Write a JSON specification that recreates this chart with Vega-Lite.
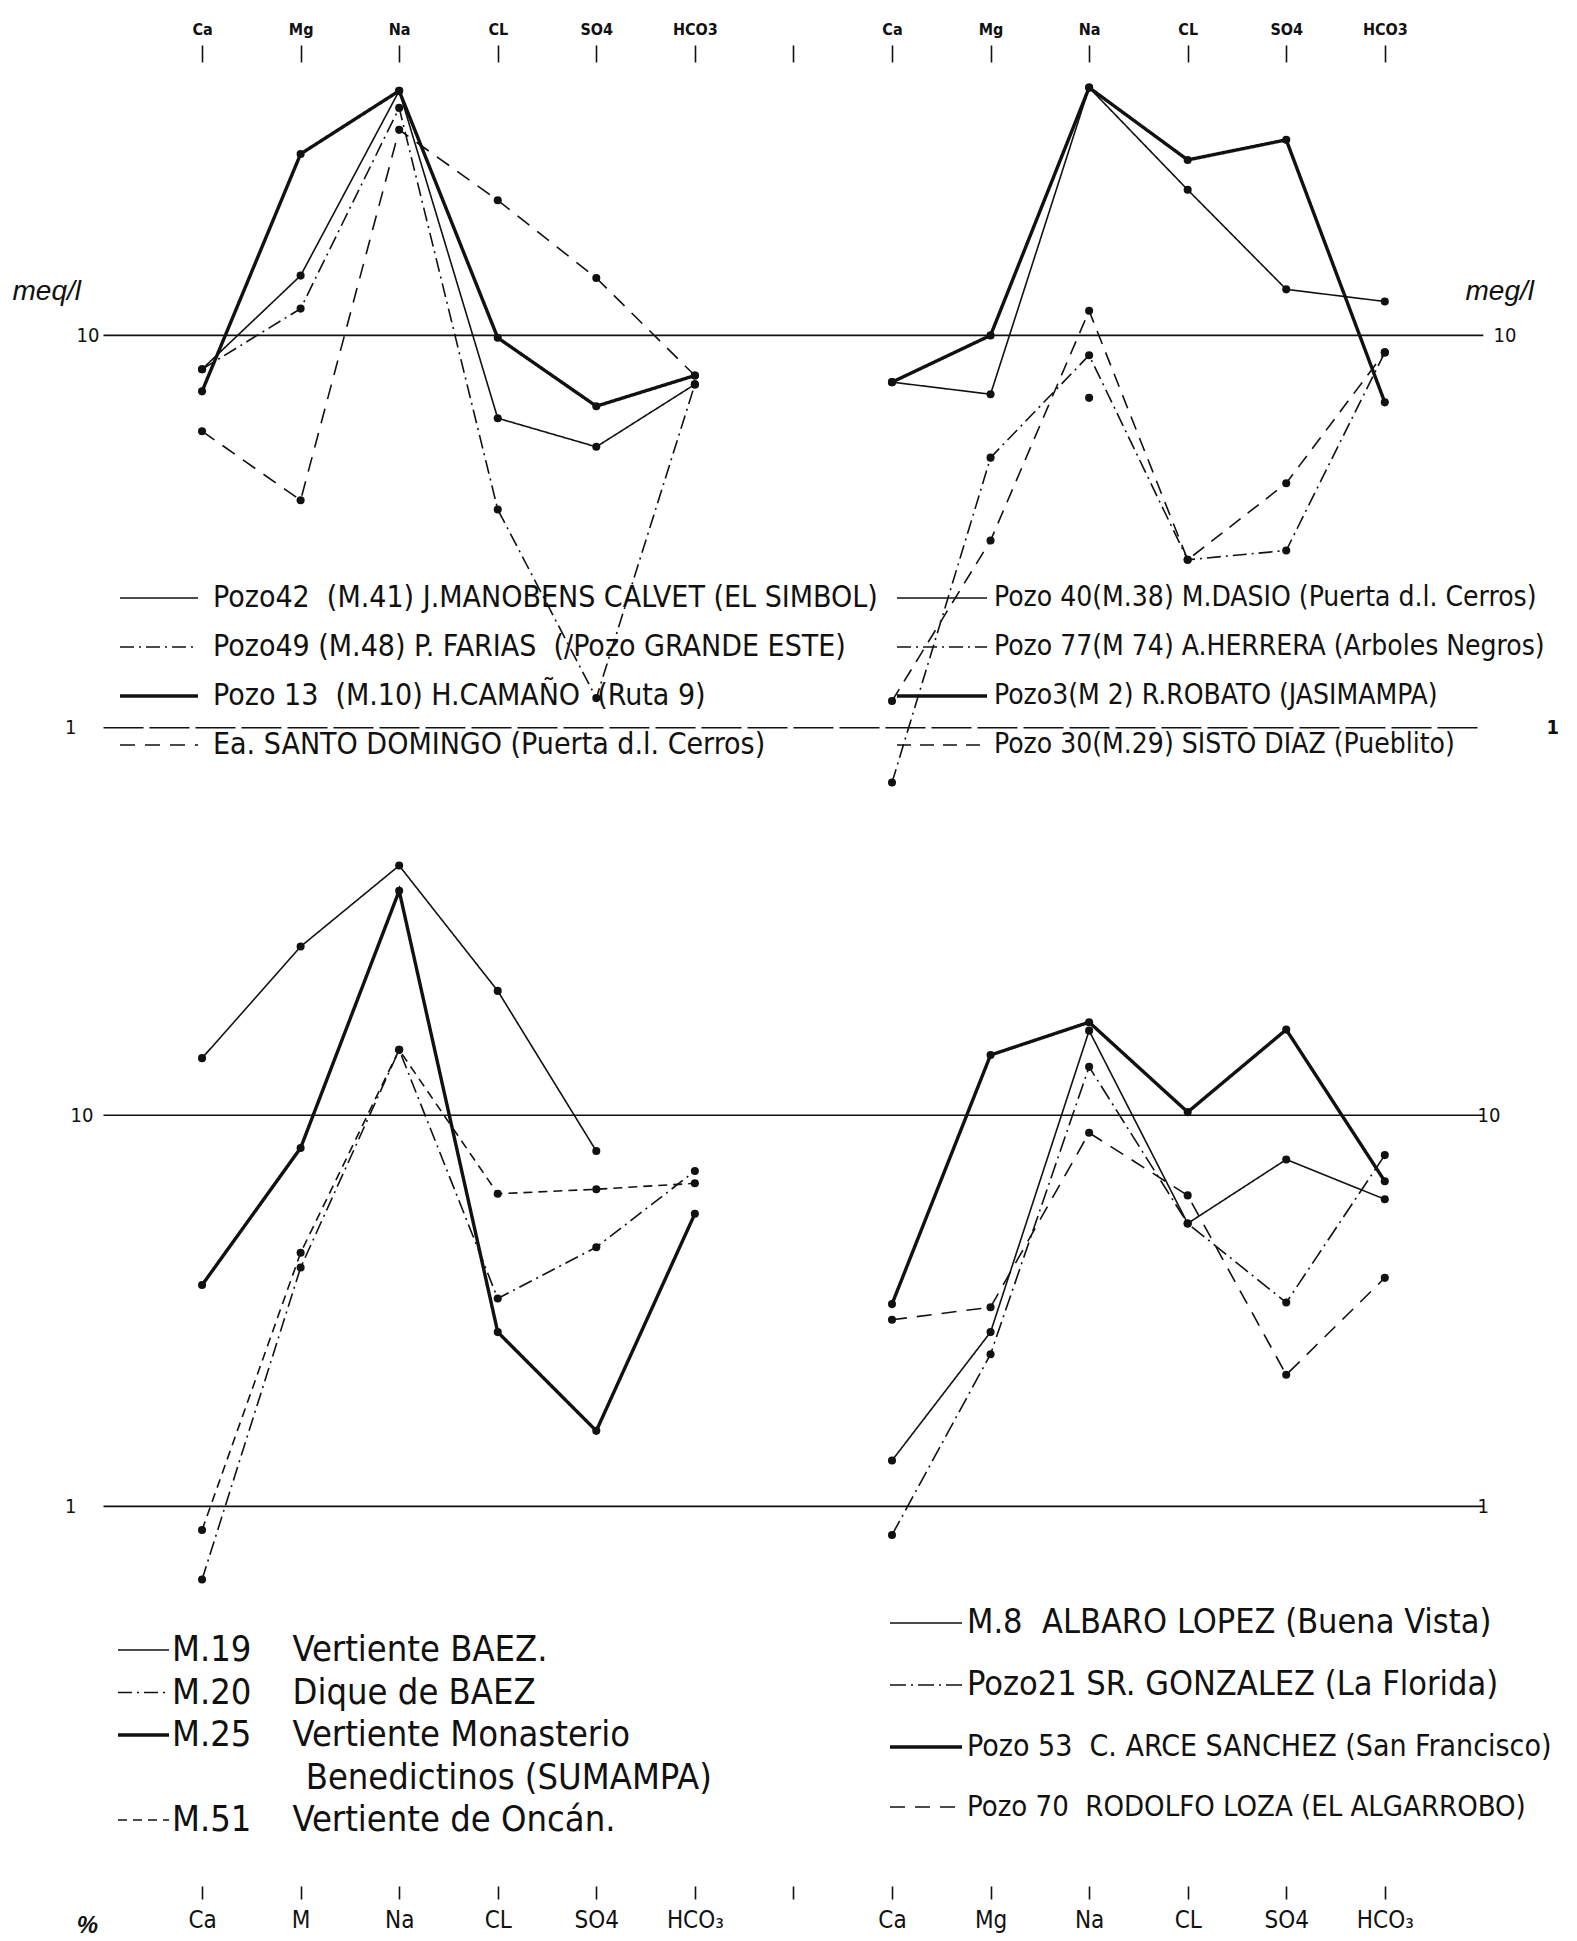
{
  "$schema": "https://vega.github.io/schema/vega-lite/v6.json",
  "background": "white",
  "padding": {"left": 0, "top": 21, "right": 0, "bottom": 0},
  "spacing": 30,
  "config": {
    "view": {"stroke": null},
    "font": "Liberation Sans Narrow, DejaVu Sans Condensed, Liberation Sans, sans-serif",
    "axis": {"grid": false, "domain": false, "labelColor": "#111", "tickColor": "#111", "titleColor": "#111", "labelFont": "Liberation Sans Narrow, DejaVu Sans Condensed, Liberation Sans, sans-serif", "titleFont": "Liberation Sans, DejaVu Sans, sans-serif"},
    "legend": {"labelColor": "#111", "labelFont": "Liberation Sans Narrow, DejaVu Sans Condensed, Liberation Sans, sans-serif"}
  },
  "resolve": {"scale": {"strokeDash": "independent", "x": "independent", "y": "independent"}, "legend": {"strokeDash": "independent"}},
  "datasets": {
    "arriba": [
      {"lado": "izq", "serie": "Pozo42\u00a0 (M.41) J.MANOBENS CALVET (EL SIMBOL)", "col": "Ca-I", "meq": 8.2},
      {"lado": "izq", "serie": "Pozo42\u00a0 (M.41) J.MANOBENS CALVET (EL SIMBOL)", "col": "Mg-I", "meq": 14.2},
      {"lado": "izq", "serie": "Pozo42\u00a0 (M.41) J.MANOBENS CALVET (EL SIMBOL)", "col": "Na-I", "meq": 42},
      {"lado": "izq", "serie": "Pozo42\u00a0 (M.41) J.MANOBENS CALVET (EL SIMBOL)", "col": "CL-I", "meq": 6.15},
      {"lado": "izq", "serie": "Pozo42\u00a0 (M.41) J.MANOBENS CALVET (EL SIMBOL)", "col": "SO4-I", "meq": 5.2},
      {"lado": "izq", "serie": "Pozo42\u00a0 (M.41) J.MANOBENS CALVET (EL SIMBOL)", "col": "HCO3-I", "meq": 7.5},
      {"lado": "izq", "serie": "Pozo49 (M.48) P. FARIAS\u00a0 (/Pozo GRANDE ESTE)", "col": "Ca-I", "meq": 8.2},
      {"lado": "izq", "serie": "Pozo49 (M.48) P. FARIAS\u00a0 (/Pozo GRANDE ESTE)", "col": "Mg-I", "meq": 11.7},
      {"lado": "izq", "serie": "Pozo49 (M.48) P. FARIAS\u00a0 (/Pozo GRANDE ESTE)", "col": "Na-I", "meq": 38},
      {"lado": "izq", "serie": "Pozo49 (M.48) P. FARIAS\u00a0 (/Pozo GRANDE ESTE)", "col": "CL-I", "meq": 3.6},
      {"lado": "izq", "serie": "Pozo49 (M.48) P. FARIAS\u00a0 (/Pozo GRANDE ESTE)", "col": "SO4-I", "meq": 1.19},
      {"lado": "izq", "serie": "Pozo49 (M.48) P. FARIAS\u00a0 (/Pozo GRANDE ESTE)", "col": "HCO3-I", "meq": 7.5},
      {"lado": "izq", "serie": "Pozo 13\u00a0 (M.10) H.CAMAÑO\u00a0 (Ruta 9)", "col": "Ca-I", "meq": 7.2},
      {"lado": "izq", "serie": "Pozo 13\u00a0 (M.10) H.CAMAÑO\u00a0 (Ruta 9)", "col": "Mg-I", "meq": 29},
      {"lado": "izq", "serie": "Pozo 13\u00a0 (M.10) H.CAMAÑO\u00a0 (Ruta 9)", "col": "Na-I", "meq": 42},
      {"lado": "izq", "serie": "Pozo 13\u00a0 (M.10) H.CAMAÑO\u00a0 (Ruta 9)", "col": "CL-I", "meq": 9.86},
      {"lado": "izq", "serie": "Pozo 13\u00a0 (M.10) H.CAMAÑO\u00a0 (Ruta 9)", "col": "SO4-I", "meq": 6.6},
      {"lado": "izq", "serie": "Pozo 13\u00a0 (M.10) H.CAMAÑO\u00a0 (Ruta 9)", "col": "HCO3-I", "meq": 7.9},
      {"lado": "izq", "serie": "Ea. SANTO DOMINGO (Puerta d.l. Cerros)", "col": "Ca-I", "meq": 5.7},
      {"lado": "izq", "serie": "Ea. SANTO DOMINGO (Puerta d.l. Cerros)", "col": "Mg-I", "meq": 3.8},
      {"lado": "izq", "serie": "Ea. SANTO DOMINGO (Puerta d.l. Cerros)", "col": "Na-I", "meq": 33.4},
      {"lado": "izq", "serie": "Ea. SANTO DOMINGO (Puerta d.l. Cerros)", "col": "CL-I", "meq": 22.1},
      {"lado": "izq", "serie": "Ea. SANTO DOMINGO (Puerta d.l. Cerros)", "col": "SO4-I", "meq": 14},
      {"lado": "izq", "serie": "Ea. SANTO DOMINGO (Puerta d.l. Cerros)", "col": "HCO3-I", "meq": 7.9},
      {"lado": "der", "serie": "Pozo 40(M.38) M.DASIO (Puerta d.l. Cerros)", "col": "Ca-D", "meq": 7.6},
      {"lado": "der", "serie": "Pozo 40(M.38) M.DASIO (Puerta d.l. Cerros)", "col": "Mg-D", "meq": 7.08},
      {"lado": "der", "serie": "Pozo 40(M.38) M.DASIO (Puerta d.l. Cerros)", "col": "Na-D", "meq": 42.8},
      {"lado": "der", "serie": "Pozo 40(M.38) M.DASIO (Puerta d.l. Cerros)", "col": "CL-D", "meq": 23.5},
      {"lado": "der", "serie": "Pozo 40(M.38) M.DASIO (Puerta d.l. Cerros)", "col": "SO4-D", "meq": 13.1},
      {"lado": "der", "serie": "Pozo 40(M.38) M.DASIO (Puerta d.l. Cerros)", "col": "HCO3-D", "meq": 12.2},
      {"lado": "der", "serie": "Pozo 77(M 74) A.HERRERA (Arboles Negros)", "col": "Ca-D", "meq": 0.725},
      {"lado": "der", "serie": "Pozo 77(M 74) A.HERRERA (Arboles Negros)", "col": "Mg-D", "meq": 4.88},
      {"lado": "der", "serie": "Pozo 77(M 74) A.HERRERA (Arboles Negros)", "col": "Na-D", "meq": 8.9},
      {"lado": "der", "serie": "Pozo 77(M 74) A.HERRERA (Arboles Negros)", "col": "CL-D", "meq": 2.68},
      {"lado": "der", "serie": "Pozo 77(M 74) A.HERRERA (Arboles Negros)", "col": "SO4-D", "meq": 2.83},
      {"lado": "der", "serie": "Pozo 77(M 74) A.HERRERA (Arboles Negros)", "col": "HCO3-D", "meq": 9.05},
      {"lado": "der", "serie": "Pozo3(M 2) R.ROBATO (JASIMAMPA)", "col": "Ca-D", "meq": 7.6},
      {"lado": "der", "serie": "Pozo3(M 2) R.ROBATO (JASIMAMPA)", "col": "Mg-D", "meq": 10.0},
      {"lado": "der", "serie": "Pozo3(M 2) R.ROBATO (JASIMAMPA)", "col": "Na-D", "meq": 42.8},
      {"lado": "der", "serie": "Pozo3(M 2) R.ROBATO (JASIMAMPA)", "col": "CL-D", "meq": 28.0},
      {"lado": "der", "serie": "Pozo3(M 2) R.ROBATO (JASIMAMPA)", "col": "SO4-D", "meq": 31.5},
      {"lado": "der", "serie": "Pozo3(M 2) R.ROBATO (JASIMAMPA)", "col": "HCO3-D", "meq": 6.75},
      {"lado": "der", "serie": "Pozo 30(M.29) SISTO DIAZ (Pueblito)", "col": "Ca-D", "meq": 1.17},
      {"lado": "der", "serie": "Pozo 30(M.29) SISTO DIAZ (Pueblito)", "col": "Mg-D", "meq": 3.0},
      {"lado": "der", "serie": "Pozo 30(M.29) SISTO DIAZ (Pueblito)", "col": "Na-D", "meq": 11.55},
      {"lado": "der", "serie": "Pozo 30(M.29) SISTO DIAZ (Pueblito)", "col": "CL-D", "meq": 2.68},
      {"lado": "der", "serie": "Pozo 30(M.29) SISTO DIAZ (Pueblito)", "col": "SO4-D", "meq": 4.2},
      {"lado": "der", "serie": "Pozo 30(M.29) SISTO DIAZ (Pueblito)", "col": "HCO3-D", "meq": 9.05},
      {"lado": "suelto", "serie": "punto aislado", "col": "Na-D", "meq": 6.93}
    ],
    "abajo": [
      {"lado": "izq", "serie": "M.19\u00a0\u00a0\u00a0 Vertiente BAEZ.", "col": "Ca-I", "meq": 14.0},
      {"lado": "izq", "serie": "M.19\u00a0\u00a0\u00a0 Vertiente BAEZ.", "col": "Mg-I", "meq": 27.0},
      {"lado": "izq", "serie": "M.19\u00a0\u00a0\u00a0 Vertiente BAEZ.", "col": "Na-I", "meq": 43.5},
      {"lado": "izq", "serie": "M.19\u00a0\u00a0\u00a0 Vertiente BAEZ.", "col": "CL-I", "meq": 20.8},
      {"lado": "izq", "serie": "M.19\u00a0\u00a0\u00a0 Vertiente BAEZ.", "col": "SO4-I", "meq": 8.1},
      {"lado": "izq", "serie": "M.20\u00a0\u00a0\u00a0 Dique de BAEZ", "col": "Ca-I", "meq": 0.65},
      {"lado": "izq", "serie": "M.20\u00a0\u00a0\u00a0 Dique de BAEZ", "col": "Mg-I", "meq": 4.08},
      {"lado": "izq", "serie": "M.20\u00a0\u00a0\u00a0 Dique de BAEZ", "col": "Na-I", "meq": 14.7},
      {"lado": "izq", "serie": "M.20\u00a0\u00a0\u00a0 Dique de BAEZ", "col": "CL-I", "meq": 3.4},
      {"lado": "izq", "serie": "M.20\u00a0\u00a0\u00a0 Dique de BAEZ", "col": "SO4-I", "meq": 4.6},
      {"lado": "izq", "serie": "M.20\u00a0\u00a0\u00a0 Dique de BAEZ", "col": "HCO3-I", "meq": 7.2},
      {"lado": "izq", "serie": "M.25\u00a0\u00a0\u00a0 Vertiente Monasterio", "col": "Ca-I", "meq": 3.68},
      {"lado": "izq", "serie": "M.25\u00a0\u00a0\u00a0 Vertiente Monasterio", "col": "Mg-I", "meq": 8.25},
      {"lado": "izq", "serie": "M.25\u00a0\u00a0\u00a0 Vertiente Monasterio", "col": "Na-I", "meq": 37.5},
      {"lado": "izq", "serie": "M.25\u00a0\u00a0\u00a0 Vertiente Monasterio", "col": "CL-I", "meq": 2.79},
      {"lado": "izq", "serie": "M.25\u00a0\u00a0\u00a0 Vertiente Monasterio", "col": "SO4-I", "meq": 1.56},
      {"lado": "izq", "serie": "M.25\u00a0\u00a0\u00a0 Vertiente Monasterio", "col": "HCO3-I", "meq": 5.6},
      {"lado": "izq", "serie": "M.51\u00a0\u00a0\u00a0 Vertiente de Oncán.", "col": "Ca-I", "meq": 0.87},
      {"lado": "izq", "serie": "M.51\u00a0\u00a0\u00a0 Vertiente de Oncán.", "col": "Mg-I", "meq": 4.45},
      {"lado": "izq", "serie": "M.51\u00a0\u00a0\u00a0 Vertiente de Oncán.", "col": "Na-I", "meq": 14.7},
      {"lado": "izq", "serie": "M.51\u00a0\u00a0\u00a0 Vertiente de Oncán.", "col": "CL-I", "meq": 6.3},
      {"lado": "izq", "serie": "M.51\u00a0\u00a0\u00a0 Vertiente de Oncán.", "col": "SO4-I", "meq": 6.47},
      {"lado": "izq", "serie": "M.51\u00a0\u00a0\u00a0 Vertiente de Oncán.", "col": "HCO3-I", "meq": 6.7},
      {"lado": "der", "serie": "M.8\u00a0 ALBARO LOPEZ (Buena Vista)", "col": "Ca-D", "meq": 1.31},
      {"lado": "der", "serie": "M.8\u00a0 ALBARO LOPEZ (Buena Vista)", "col": "Mg-D", "meq": 2.79},
      {"lado": "der", "serie": "M.8\u00a0 ALBARO LOPEZ (Buena Vista)", "col": "Na-D", "meq": 16.46},
      {"lado": "der", "serie": "M.8\u00a0 ALBARO LOPEZ (Buena Vista)", "col": "CL-D", "meq": 5.29},
      {"lado": "der", "serie": "M.8\u00a0 ALBARO LOPEZ (Buena Vista)", "col": "SO4-D", "meq": 7.71},
      {"lado": "der", "serie": "M.8\u00a0 ALBARO LOPEZ (Buena Vista)", "col": "HCO3-D", "meq": 6.1},
      {"lado": "der", "serie": "Pozo21 SR. GONZALEZ (La Florida)", "col": "Ca-D", "meq": 0.845},
      {"lado": "der", "serie": "Pozo21 SR. GONZALEZ (La Florida)", "col": "Mg-D", "meq": 2.45},
      {"lado": "der", "serie": "Pozo21 SR. GONZALEZ (La Florida)", "col": "Na-D", "meq": 13.3},
      {"lado": "der", "serie": "Pozo21 SR. GONZALEZ (La Florida)", "col": "CL-D", "meq": 5.29},
      {"lado": "der", "serie": "Pozo21 SR. GONZALEZ (La Florida)", "col": "SO4-D", "meq": 3.32},
      {"lado": "der", "serie": "Pozo21 SR. GONZALEZ (La Florida)", "col": "HCO3-D", "meq": 7.91},
      {"lado": "der", "serie": "Pozo 53\u00a0 C. ARCE SANCHEZ (San Francisco)", "col": "Ca-D", "meq": 3.29},
      {"lado": "der", "serie": "Pozo 53\u00a0 C. ARCE SANCHEZ (San Francisco)", "col": "Mg-D", "meq": 14.26},
      {"lado": "der", "serie": "Pozo 53\u00a0 C. ARCE SANCHEZ (San Francisco)", "col": "Na-D", "meq": 17.3},
      {"lado": "der", "serie": "Pozo 53\u00a0 C. ARCE SANCHEZ (San Francisco)", "col": "CL-D", "meq": 10.19},
      {"lado": "der", "serie": "Pozo 53\u00a0 C. ARCE SANCHEZ (San Francisco)", "col": "SO4-D", "meq": 16.56},
      {"lado": "der", "serie": "Pozo 53\u00a0 C. ARCE SANCHEZ (San Francisco)", "col": "HCO3-D", "meq": 6.78},
      {"lado": "der", "serie": "Pozo 70\u00a0 RODOLFO LOZA (EL ALGARROBO)", "col": "Ca-D", "meq": 3.0},
      {"lado": "der", "serie": "Pozo 70\u00a0 RODOLFO LOZA (EL ALGARROBO)", "col": "Mg-D", "meq": 3.23},
      {"lado": "der", "serie": "Pozo 70\u00a0 RODOLFO LOZA (EL ALGARROBO)", "col": "Na-D", "meq": 9.02},
      {"lado": "der", "serie": "Pozo 70\u00a0 RODOLFO LOZA (EL ALGARROBO)", "col": "CL-D", "meq": 6.24},
      {"lado": "der", "serie": "Pozo 70\u00a0 RODOLFO LOZA (EL ALGARROBO)", "col": "SO4-D", "meq": 2.17},
      {"lado": "der", "serie": "Pozo 70\u00a0 RODOLFO LOZA (EL ALGARROBO)", "col": "HCO3-D", "meq": 3.84}
    ]
  },
  "vconcat": [
    {
      "width": 1577,
      "height": 738,
      "data": {"name": "arriba"},
      "resolve": {"scale": {"strokeDash": "independent"}, "legend": {"strokeDash": "independent"}, "axis": {"y": "independent"}},
      "encoding": {
        "x": {
          "field": "col", "type": "nominal", "sort": null,
          "scale": {"type": "point", "domain": ["ini", "Ca-I", "Mg-I", "Na-I", "CL-I", "SO4-I", "HCO3-I", "mid", "Ca-D", "Mg-D", "Na-D", "CL-D", "SO4-D", "HCO3-D", "fin"], "padding": 1.1406, "align": 0.525},
          "axis": {"orient": "top", "values": ["Ca-I", "Mg-I", "Na-I", "CL-I", "SO4-I", "HCO3-I", "mid", "Ca-D", "Mg-D", "Na-D", "CL-D", "SO4-D", "HCO3-D"], "labelExpr": "datum.value == 'mid' ? '' : split(datum.value, '-')[0]", "tickSize": 17, "tickWidth": 1.6, "labelPadding": 8, "labelFontSize": 16, "labelFontWeight": "bold", "labelAngle": 0, "title": null, "domain": false}
        }
      },
      "layer": [
        {
          "data": {"values": [{"ref": 10}]},
          "mark": {"type": "rule", "color": "#111", "strokeWidth": 1.6},
          "encoding": {
            "x": {"datum": "ini", "type": "nominal",
              "axis": {"orient": "top", "values": ["Ca-I", "Mg-I", "Na-I", "CL-I", "SO4-I", "HCO3-I", "mid", "Ca-D", "Mg-D", "Na-D", "CL-D", "SO4-D", "HCO3-D"], "labelExpr": "datum.value == 'mid' ? '' : split(datum.value, '-')[0]", "tickSize": 17, "tickWidth": 1.6, "labelPadding": 8, "labelFontSize": 16, "labelFontWeight": "bold", "labelAngle": 0, "title": null, "domain": false}},
            "x2": {"datum": "fin"},
            "y": {"field": "ref", "type": "quantitative", "scale": {"type": "log", "domain": [0.6545, 49.74], "nice": false, "zero": false},
              "axis": {"orient": "left", "values": [1, 10], "labelExpr": "datum.value >= 10 ? '10' : '1'", "offset": -102, "labelPadding": {"condition": {"test": "datum.value < 5", "value": 26}, "value": 3}, "labelFontSize": 20, "ticks": false, "domain": false, "title": "meq/l", "titleAngle": 0, "titleX": -90, "titleY": 229, "titleAlign": "left", "titleBaseline": "middle", "titleFontSize": 28, "titleFontStyle": "italic", "titleFontWeight": "normal"}}
          }
        },
        {
          "data": {"values": [{"ref": 1}]},
          "mark": {"type": "rule", "color": "#111", "strokeWidth": 1.4, "strokeDash": [40, 6]},
          "encoding": {
            "x": {"datum": "ini", "type": "nominal",
              "axis": {"orient": "top", "values": ["Ca-I", "Mg-I", "Na-I", "CL-I", "SO4-I", "HCO3-I", "mid", "Ca-D", "Mg-D", "Na-D", "CL-D", "SO4-D", "HCO3-D"], "labelExpr": "datum.value == 'mid' ? '' : split(datum.value, '-')[0]", "tickSize": 17, "tickWidth": 1.6, "labelPadding": 8, "labelFontSize": 16, "labelFontWeight": "bold", "labelAngle": 0, "title": null, "domain": false}},
            "x2": {"datum": "fin"},
            "y": {"field": "ref", "type": "quantitative", "scale": {"type": "log", "domain": [0.6545, 49.74], "nice": false, "zero": false},
              "axis": {"orient": "right", "values": [1, 10], "labelExpr": "datum.value >= 10 ? '10' : '1'", "offset": -89, "labelPadding": {"condition": {"test": "datum.value < 5", "value": 58}, "value": 5}, "labelFontWeight": {"condition": {"test": "datum.value < 5", "value": "bold"}, "value": "normal"}, "labelFontSize": 20, "ticks": false, "domain": false, "title": "meg/l", "titleAngle": 0, "titleX": -23, "titleY": 229, "titleAlign": "left", "titleBaseline": "middle", "titleFontSize": 28, "titleFontStyle": "italic", "titleFontWeight": "normal"}}
          }
        },
        {
          "transform": [{"filter": "datum.lado == 'izq'"}],
          "mark": {"type": "line", "color": "#111"},
          "encoding": {
            "y": {"field": "meq", "type": "quantitative", "scale": {"type": "log", "domain": [0.6545, 49.74], "nice": false, "zero": false}, "axis": null},
            "strokeWidth": {"condition": {"test": {"field": "serie", "equal": "Pozo 13\u00a0 (M.10) H.CAMAÑO\u00a0 (Ruta 9)"}, "value": 3.4}, "value": 1.6},
            "strokeDash": {
              "field": "serie", "type": "nominal",
              "scale": {"domain": ["Pozo42\u00a0 (M.41) J.MANOBENS CALVET (EL SIMBOL)", "Pozo49 (M.48) P. FARIAS\u00a0 (/Pozo GRANDE ESTE)", "Pozo 13\u00a0 (M.10) H.CAMAÑO\u00a0 (Ruta 9)", "Ea. SANTO DOMINGO (Puerta d.l. Cerros)"], "range": [[1, 0], [14, 5, 2, 5], [1, 0], [15, 10]]},
              "legend": {"orient": "none", "legendX": 120, "legendY": 521, "direction": "vertical", "title": null, "symbolType": "stroke", "symbolSize": 6084, "symbolOffset": 24, "symbolStrokeColor": "#111", "symbolStrokeWidth": 1.6, "labelOffset": 39, "labelFontSize": 30, "labelLimit": 3000, "rowPadding": 19, "padding": 0,
                "encode": {"symbols": {"update": {"strokeWidth": {"signal": "datum.index == 2 ? 3.4 : 1.6"}}}}}
            }
          }
        },
        {
          "transform": [{"filter": "datum.lado == 'der'"}],
          "mark": {"type": "line", "color": "#111"},
          "encoding": {
            "y": {"field": "meq", "type": "quantitative", "scale": {"type": "log", "domain": [0.6545, 49.74], "nice": false, "zero": false}, "axis": null},
            "strokeWidth": {"condition": {"test": {"field": "serie", "equal": "Pozo3(M 2) R.ROBATO (JASIMAMPA)"}, "value": 3.4}, "value": 1.6},
            "strokeDash": {
              "field": "serie", "type": "nominal",
              "scale": {"domain": ["Pozo 40(M.38) M.DASIO (Puerta d.l. Cerros)", "Pozo 77(M 74) A.HERRERA (Arboles Negros)", "Pozo3(M 2) R.ROBATO (JASIMAMPA)", "Pozo 30(M.29) SISTO DIAZ (Pueblito)"], "range": [[1, 0], [14, 5, 2, 5], [1, 0], [14, 9]]},
              "legend": {"orient": "none", "legendX": 897, "legendY": 522, "direction": "vertical", "title": null, "symbolType": "stroke", "symbolSize": 8100, "symbolOffset": 31, "symbolStrokeColor": "#111", "symbolStrokeWidth": 1.6, "labelOffset": 38, "labelFontSize": 28, "labelLimit": 3000, "rowPadding": 21, "padding": 0,
                "encode": {"symbols": {"update": {"strokeWidth": {"signal": "datum.index == 2 ? 3.4 : 1.6"}}}}}
            }
          }
        },
        {
          "mark": {"type": "point", "filled": true, "size": 65, "color": "#111", "opacity": 1},
          "encoding": {
            "y": {"field": "meq", "type": "quantitative", "scale": {"type": "log", "domain": [0.6545, 49.74], "nice": false, "zero": false}, "axis": null}
          }
        }
      ]
    },
    {
      "width": 1577,
      "height": 1056,
      "data": {"name": "abajo"},
      "resolve": {"scale": {"strokeDash": "independent"}, "legend": {"strokeDash": "independent"}, "axis": {"y": "independent"}},
      "encoding": {
        "x": {
          "field": "col", "type": "nominal", "sort": null,
          "scale": {"type": "point", "domain": ["ini", "Ca-I", "Mg-I", "Na-I", "CL-I", "SO4-I", "HCO3-I", "mid", "Ca-D", "Mg-D", "Na-D", "CL-D", "SO4-D", "HCO3-D", "fin"], "padding": 1.1406, "align": 0.525},
          "axis": {"orient": "bottom", "values": ["Ca-I", "Mg-I", "Na-I", "CL-I", "SO4-I", "HCO3-I", "mid", "Ca-D", "Mg-D", "Na-D", "CL-D", "SO4-D", "HCO3-D"], "labelExpr": "datum.value == 'mid' ? '' : datum.value == 'Mg-I' ? 'M' : replace(split(datum.value, '-')[0], 'HCO3', 'HCO₃')", "tickSize": 13, "tickWidth": 1.6, "labelPadding": 9, "labelFontSize": 24, "labelAngle": 0, "domain": false,
            "title": "%", "titleX": 87, "titleY": 39, "titleAlign": "center", "titleBaseline": "middle", "titleFontSize": 24, "titleFontStyle": "italic", "titleFontWeight": "bold"}
        }
      },
      "layer": [
        {
          "data": {"values": [{"ref": 10}]},
          "mark": {"type": "rule", "color": "#111", "strokeWidth": 1.6},
          "encoding": {
            "x": {"datum": "ini", "type": "nominal",
              "axis": {"orient": "bottom", "values": ["Ca-I", "Mg-I", "Na-I", "CL-I", "SO4-I", "HCO3-I", "mid", "Ca-D", "Mg-D", "Na-D", "CL-D", "SO4-D", "HCO3-D"], "labelExpr": "datum.value == 'mid' ? '' : datum.value == 'Mg-I' ? 'M' : replace(split(datum.value, '-')[0], 'HCO3', 'HCO₃')", "tickSize": 13, "tickWidth": 1.6, "labelPadding": 9, "labelFontSize": 24, "labelAngle": 0, "domain": false,
                "title": "%", "titleX": 87, "titleY": 39, "titleAlign": "center", "titleBaseline": "middle", "titleFontSize": 24, "titleFontStyle": "italic", "titleFontWeight": "bold"}},
            "x2": {"datum": "fin"},
            "y": {"field": "ref", "type": "quantitative", "scale": {"type": "log", "domain": [0.10699, 53.64], "nice": false, "zero": false},
              "axis": {"orient": "left", "values": [1, 10], "labelExpr": "datum.value >= 10 ? '10' : '1'", "offset": -96, "labelPadding": {"condition": {"test": "datum.value < 5", "value": 20}, "value": 3}, "labelFontSize": 20, "ticks": false, "domain": false, "title": null}}
          }
        },
        {
          "data": {"values": [{"ref": 1}]},
          "mark": {"type": "rule", "color": "#111", "strokeWidth": 1.6},
          "encoding": {
            "x": {"datum": "ini", "type": "nominal",
              "axis": {"orient": "bottom", "values": ["Ca-I", "Mg-I", "Na-I", "CL-I", "SO4-I", "HCO3-I", "mid", "Ca-D", "Mg-D", "Na-D", "CL-D", "SO4-D", "HCO3-D"], "labelExpr": "datum.value == 'mid' ? '' : datum.value == 'Mg-I' ? 'M' : replace(split(datum.value, '-')[0], 'HCO3', 'HCO₃')", "tickSize": 13, "tickWidth": 1.6, "labelPadding": 9, "labelFontSize": 24, "labelAngle": 0, "domain": false,
                "title": "%", "titleX": 87, "titleY": 39, "titleAlign": "center", "titleBaseline": "middle", "titleFontSize": 24, "titleFontStyle": "italic", "titleFontWeight": "bold"}},
            "x2": {"datum": "fin"},
            "y": {"field": "ref", "type": "quantitative", "scale": {"type": "log", "domain": [0.10699, 53.64], "nice": false, "zero": false},
              "axis": {"orient": "right", "values": [1, 10], "labelExpr": "datum.value >= 10 ? '10' : '1'", "offset": -105, "labelPadding": 5, "labelFontSize": 20, "ticks": false, "domain": false, "title": null}}
          }
        },
        {
          "transform": [{"filter": "datum.lado == 'izq'"}],
          "mark": {"type": "line", "color": "#111"},
          "encoding": {
            "y": {"field": "meq", "type": "quantitative", "scale": {"type": "log", "domain": [0.10699, 53.64], "nice": false, "zero": false}, "axis": null},
            "strokeWidth": {"condition": {"test": {"field": "serie", "equal": "M.25\u00a0\u00a0\u00a0 Vertiente Monasterio"}, "value": 3.4}, "value": 1.6},
            "strokeDash": {
              "field": "serie", "type": "nominal",
              "scale": {"domain": ["M.19\u00a0\u00a0\u00a0 Vertiente BAEZ.", "M.20\u00a0\u00a0\u00a0 Dique de BAEZ", "M.25\u00a0\u00a0\u00a0 Vertiente Monasterio", "\u200b\u00a0\u00a0\u00a0\u00a0\u00a0\u00a0\u00a0\u00a0\u00a0\u00a0\u00a0\u00a0\u00a0Benedictinos (SUMAMPA)", "M.51\u00a0\u00a0\u00a0 Vertiente de Oncán."], "range": [[1, 0], [14, 5, 2, 5], [1, 0], [1, 0], [9, 6]]},
              "legend": {"orient": "none", "legendX": 118, "legendY": 802, "direction": "vertical", "title": null, "symbolType": "stroke", "symbolSize": 2601, "symbolOffset": 7.5, "symbolStrokeColor": "#111", "symbolStrokeWidth": 1.6, "labelOffset": 10.5, "labelFontSize": 36, "labelLimit": 3000, "rowPadding": 6.5, "padding": 0,
                "encode": {"symbols": {"update": {"strokeWidth": {"signal": "datum.index == 2 ? 3.4 : datum.index == 3 ? 0 : 1.6"}}}}}
            }
          }
        },
        {
          "transform": [{"filter": "datum.lado == 'der'"}],
          "mark": {"type": "line", "color": "#111"},
          "encoding": {
            "y": {"field": "meq", "type": "quantitative", "scale": {"type": "log", "domain": [0.10699, 53.64], "nice": false, "zero": false}, "axis": null},
            "strokeWidth": {"condition": {"test": {"field": "serie", "equal": "Pozo 53\u00a0 C. ARCE SANCHEZ (San Francisco)"}, "value": 3.4}, "value": 1.6},
            "strokeDash": {
              "field": "serie", "type": "nominal",
              "scale": {"domain": ["M.8\u00a0 ALBARO LOPEZ (Buena Vista)", "Pozo21 SR. GONZALEZ (La Florida)", "Pozo 53\u00a0 C. ARCE SANCHEZ (San Francisco)", "Pozo 70\u00a0 RODOLFO LOZA (EL ALGARROBO)"], "range": [[1, 0], [16, 5, 2, 5], [1, 0], [15, 10]]},
              "legend": {"orient": "none", "legendX": 890, "legendY": 776, "direction": "vertical", "title": null, "symbolType": "stroke", "symbolSize": 5184, "symbolOffset": 19, "symbolStrokeColor": "#111", "symbolStrokeWidth": 1.6, "labelOffset": 24, "labelFontSize": 34, "labelLimit": 3000, "rowPadding": 28, "padding": 0,
                "encode": {"symbols": {"update": {"strokeWidth": {"signal": "datum.index == 2 ? 3.4 : 1.6"}}}, "labels": {"update": {"fontSize": {"signal": "datum.index == 2 ? 30 : datum.index == 3 ? 29 : 34"}}}}}
            }
          }
        },
        {
          "mark": {"type": "point", "filled": true, "size": 65, "color": "#111", "opacity": 1},
          "encoding": {
            "y": {"field": "meq", "type": "quantitative", "scale": {"type": "log", "domain": [0.10699, 53.64], "nice": false, "zero": false}, "axis": null}
          }
        }
      ]
    }
  ]
}
